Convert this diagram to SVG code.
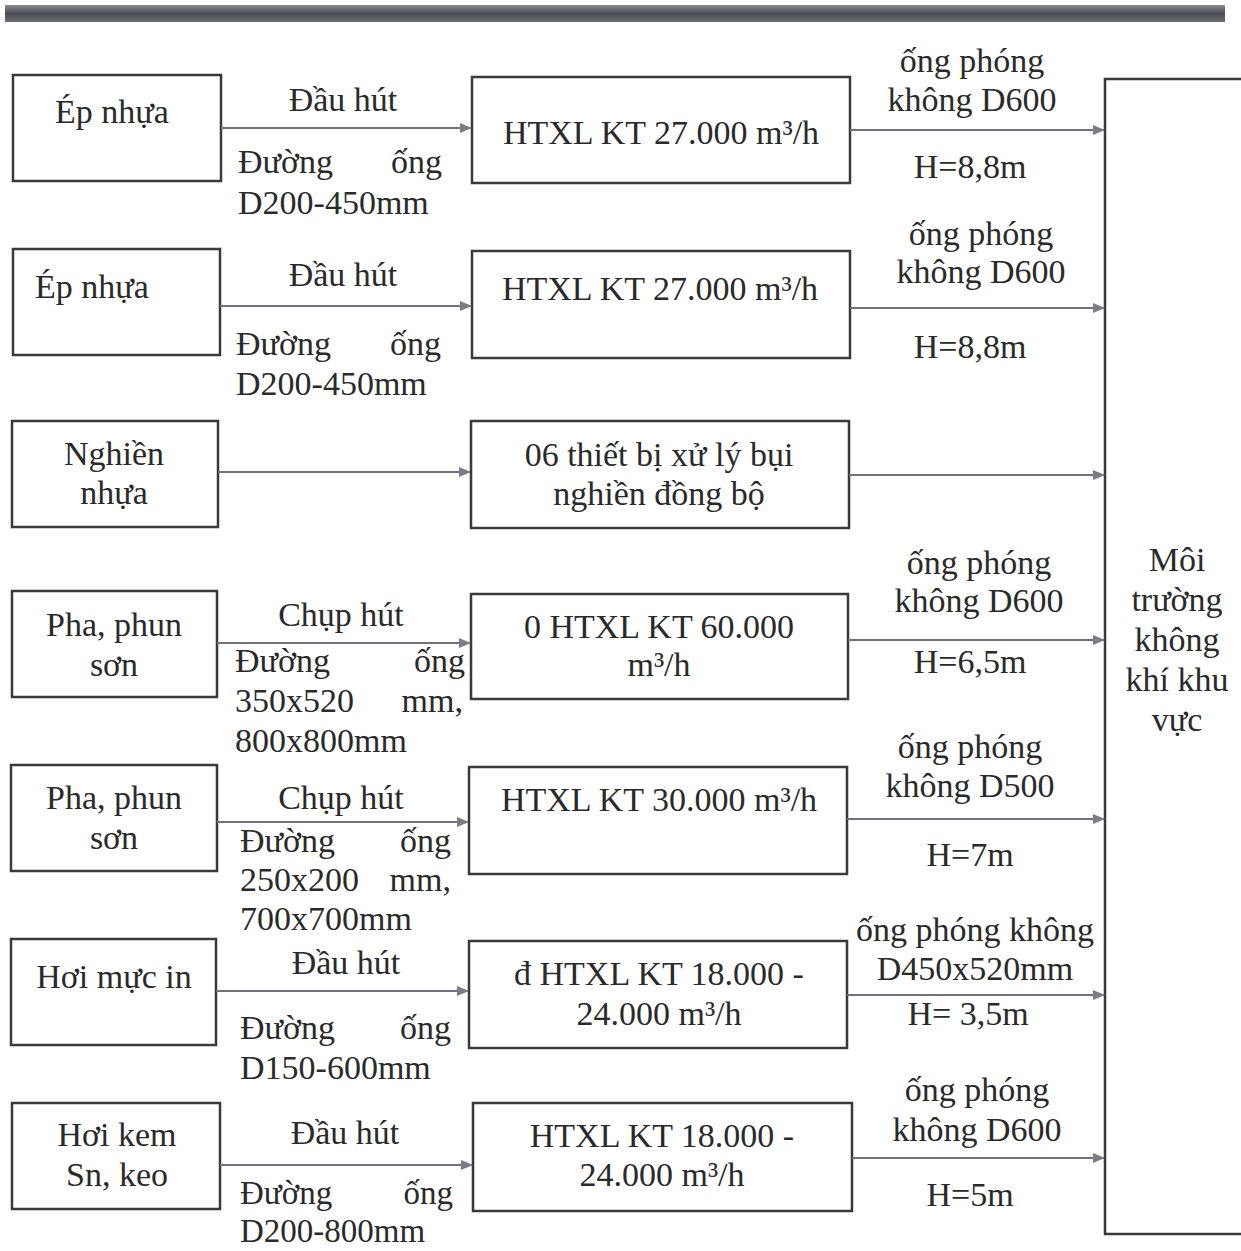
<svg xmlns="http://www.w3.org/2000/svg" width="1241" height="1251" viewBox="0 0 1241 1251">
<defs>
<linearGradient id="bar" x1="0" y1="0" x2="0" y2="1">
<stop offset="0" stop-color="#8a8d92"/>
<stop offset="0.5" stop-color="#4a4d52"/>
<stop offset="1" stop-color="#6a6d72"/>
</linearGradient>
<marker id="ah" markerWidth="12" markerHeight="10" refX="11" refY="5" orient="auto" markerUnits="userSpaceOnUse">
<path d="M0,0 L12,5 L0,10 Z" fill="#7a7d85"/>
</marker>
<style>
.box{fill:#fff;stroke:#3a3a3a;stroke-width:2.5}
.t{font-family:"Liberation Serif","Times New Roman",serif;font-size:34px;fill:#2a2a2a}
.s{font-size:33px}
.c{text-anchor:middle}
.e{text-anchor:end}
.ar{stroke:#6f727a;stroke-width:2.2;fill:none;marker-end:url(#ah)}
</style>
</defs>
<rect width="1241" height="1251" fill="#fff"/>
<rect x="5" y="5" width="1220" height="17" fill="url(#bar)"/>

<g id="n1a"><rect class="box" x="13" y="75" width="208" height="106"/><text class="t c" x="112" y="123">Ép nhựa</text></g>
<g id="n1b"><rect class="box" x="472" y="77" width="378" height="106"/><text class="t c" x="661" y="144">HTXL KT 27.000 m³/h</text></g>

<g id="n2a"><rect class="box" x="13" y="249" width="207" height="106"/><text class="t c" x="92" y="298">Ép nhựa</text></g>
<g id="n2b"><rect class="box" x="472" y="251" width="378" height="107"/><text class="t c" x="660" y="300">HTXL KT 27.000 m³/h</text></g>

<g id="n3a"><rect class="box" x="12" y="421" width="206" height="106"/><text class="t c" x="114" y="465">Nghiền</text><text class="t c" x="114" y="504">nhựa</text></g>
<g id="n3b"><rect class="box" x="471" y="421" width="378" height="107"/><text class="t c" x="659" y="466">06 thiết bị xử lý bụi</text><text class="t c" x="659" y="505">nghiền đồng bộ</text></g>

<g id="n4a"><rect class="box" x="12" y="591" width="205" height="106"/><text class="t c" x="114" y="636">Pha, phun</text><text class="t c" x="114" y="676">sơn</text></g>
<g id="n4b"><rect class="box" x="471" y="594" width="377" height="105"/><text class="t c" x="659" y="638">0 HTXL KT 60.000</text><text class="t c" x="659" y="676">m³/h</text></g>

<g id="n5a"><rect class="box" x="11" y="765" width="206" height="106"/><text class="t c" x="114" y="809">Pha, phun</text><text class="t c" x="114" y="849">sơn</text></g>
<g id="n5b"><rect class="box" x="469" y="767" width="378" height="107"/><text class="t c" x="659" y="811">HTXL KT 30.000 m³/h</text></g>

<g id="n6a"><rect class="box" x="11" y="939" width="205" height="106"/><text class="t c" x="114" y="988">Hơi mực in</text></g>
<g id="n6b"><rect class="box" x="469" y="941" width="378" height="107"/><text class="t c" x="659" y="985">đ HTXL KT 18.000 -</text><text class="t c" x="659" y="1025">24.000 m³/h</text></g>

<g id="n7a"><rect class="box" x="12" y="1103" width="208" height="106"/><text class="t c" x="117" y="1146">Hơi kem</text><text class="t c" x="117" y="1186">Sn, keo</text></g>
<g id="n7b"><rect class="box" x="473" y="1103" width="379" height="108"/><text class="t c" x="662" y="1147">HTXL KT 18.000 -</text><text class="t c" x="662" y="1186">24.000 m³/h</text></g>

<g id="env"><rect class="box" x="1105" y="79" width="150" height="1155"/>
<text class="t c" x="1177" y="571">Môi</text><text class="t c" x="1177" y="611">trường</text><text class="t c" x="1177" y="651">không</text><text class="t c" x="1177" y="691">khí khu</text><text class="t c" x="1177" y="731">vực</text></g>

<g id="connectors">
<line class="ar" x1="221" y1="128" x2="471" y2="128"/>
<line class="ar" x1="850" y1="130" x2="1104" y2="130"/>
<line class="ar" x1="220" y1="306" x2="471" y2="306"/>
<line class="ar" x1="850" y1="308" x2="1104" y2="308"/>
<line class="ar" x1="218" y1="472" x2="470" y2="472"/>
<line class="ar" x1="849" y1="475" x2="1104" y2="475"/>
<line class="ar" x1="217" y1="643" x2="470" y2="643"/>
<line class="ar" x1="848" y1="640" x2="1104" y2="640"/>
<line class="ar" x1="217" y1="822" x2="468" y2="822"/>
<line class="ar" x1="847" y1="819" x2="1104" y2="819"/>
<line class="ar" x1="216" y1="991" x2="468" y2="991"/>
<line class="ar" x1="847" y1="995" x2="1104" y2="995"/>
<line class="ar" x1="220" y1="1165" x2="472" y2="1165"/>
<line class="ar" x1="852" y1="1158" x2="1104" y2="1158"/>
</g>

<g id="labels">
<text class="t c" x="343" y="111">Đầu hút</text>
<text class="t" x="238" y="173">Đường</text><text class="t e" x="442" y="173">ống</text>
<text class="t" x="238" y="214">D200-450mm</text>
<text class="t c" x="972" y="72">ống phóng</text>
<text class="t c" x="972" y="111">không D600</text>
<text class="t c" x="970" y="178">H=8,8m</text>

<text class="t c" x="343" y="286">Đầu hút</text>
<text class="t" x="236" y="355">Đường</text><text class="t e" x="441" y="355">ống</text>
<text class="t" x="236" y="395">D200-450mm</text>
<text class="t c" x="981" y="245">ống phóng</text>
<text class="t c" x="981" y="283">không D600</text>
<text class="t c" x="970" y="358">H=8,8m</text>

<text class="t c" x="341" y="626">Chụp hút</text>
<text class="t" x="235" y="672">Đường</text><text class="t e" x="465" y="672">ống</text>
<text class="t" x="235" y="712">350x520</text><text class="t e" x="463" y="712">mm,</text>
<text class="t" x="235" y="752">800x800mm</text>
<text class="t c" x="979" y="574">ống phóng</text>
<text class="t c" x="979" y="612">không D600</text>
<text class="t c" x="970" y="673">H=6,5m</text>

<text class="t c" x="341" y="809">Chụp hút</text>
<text class="t" x="240" y="852">Đường</text><text class="t e" x="451" y="852">ống</text>
<text class="t" x="240" y="891">250x200</text><text class="t e" x="451" y="891">mm,</text>
<text class="t" x="240" y="930">700x700mm</text>
<text class="t c" x="970" y="758">ống phóng</text>
<text class="t c" x="970" y="797">không D500</text>
<text class="t c" x="970" y="866">H=7m</text>

<text class="t c" x="346" y="974">Đầu hút</text>
<text class="t" x="240" y="1039">Đường</text><text class="t e" x="451" y="1039">ống</text>
<text class="t" x="240" y="1079">D150-600mm</text>
<text class="t c" x="975" y="941">ống phóng không</text>
<text class="t c" x="975" y="980">D450x520mm</text>
<text class="t c" x="968" y="1025">H= 3,5m</text>

<text class="t c" x="345" y="1144">Đầu hút</text>
<text class="t s" x="240" y="1204">Đường</text><text class="t s e" x="453" y="1204">ống</text>
<text class="t s" x="240" y="1242">D200-800mm</text>
<text class="t c" x="977" y="1101">ống phóng</text>
<text class="t c" x="977" y="1141">không D600</text>
<text class="t c" x="970" y="1206">H=5m</text>
</g>
</svg>
